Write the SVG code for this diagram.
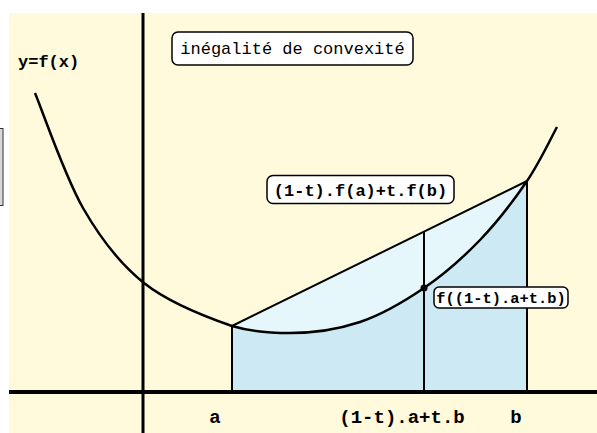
<svg xmlns="http://www.w3.org/2000/svg" width="597" height="433" viewBox="0 0 597 433">
<style>
text{font-family:"Liberation Mono","DejaVu Sans Mono",monospace;fill:#000}
.b{font-weight:bold}
.box{fill:#fff;stroke:#000;stroke-width:1.5}
.ln{stroke:#000;fill:none}
</style>
<rect x="0" y="0" width="597" height="433" fill="#fff"/>
<rect x="9" y="13" width="588" height="420" fill="#fffadc"/>
<rect x="-10" y="128.5" width="13" height="77" fill="#d9d9d9" stroke="#333" stroke-width="1"/>
<g id="regions">
<polygon points="232,326 527,181 527,392 232,392" fill="#e6f7fb"/>
<path d="M232,392 L232,326 C250,331.4 270,333 290,333 C313,333 337,329.7 360,322 C381,314.9 403,302.3 424,288 C444,274.5 462.8,257.8 480,240 C497.2,222.2 514.2,199.8 527,181 L527,392 Z" fill="#cdeaf4"/>
</g>
<g id="connectors">
<line class="ln" x1="9" y1="392" x2="597" y2="392" stroke-width="4"/>
<line class="ln" x1="143" y1="13" x2="143" y2="433" stroke-width="3"/>
<line class="ln" x1="232" y1="326" x2="232" y2="392" stroke-width="2"/>
<line class="ln" x1="424" y1="231.6" x2="424" y2="392" stroke-width="2"/>
<line class="ln" x1="527" y1="181" x2="527" y2="392" stroke-width="2"/>
<line class="ln" x1="232" y1="326" x2="527" y2="181" stroke-width="2"/>
<path class="ln" stroke-width="2.5" d="M35,93 C43,112.2 64.8,176.3 83,208 C101.2,239.7 119.2,263.3 144,283 C168.8,302.7 203,316 232,326 C250,331.4 270,333 290,333 C313,333 337,329.7 360,322 C381,314.9 403,302.3 424,288 C444,274.5 462.8,257.8 480,240 C497.2,222.2 514.2,199.8 527,181 C539.8,162.2 552,136 557,127"/>
<circle cx="424" cy="288" r="3.5" fill="#000"/>
</g>
<g id="title">
<rect class="box" x="172" y="32" width="241" height="33" rx="6"/>
<text x="292.5" y="54" font-size="17" text-anchor="middle">inégalité de convexité</text>
</g>
<g id="yfx">
<text class="b" x="18" y="67" font-size="17">y=f(x)</text>
</g>
<g id="chordlabel">
<rect class="box" x="267" y="175.5" width="187" height="28" rx="6"/>
<text class="b" x="360.5" y="196" font-size="17" text-anchor="middle">(1-t).f(a)+t.f(b)</text>
</g>
<g id="pointlabel">
<rect class="box" x="434" y="287" width="134" height="21" rx="5"/>
<text class="b" x="501" y="302.5" font-size="15.4" text-anchor="middle">f((1-t).a+t.b)</text>
</g>
<g id="xlabels">
<text class="b" x="215" y="423" font-size="19" text-anchor="middle">a</text>
<text class="b" x="402" y="423" font-size="19" text-anchor="middle">(1-t).a+t.b</text>
<text class="b" x="516" y="423" font-size="19" text-anchor="middle">b</text>
</g>
</svg>
